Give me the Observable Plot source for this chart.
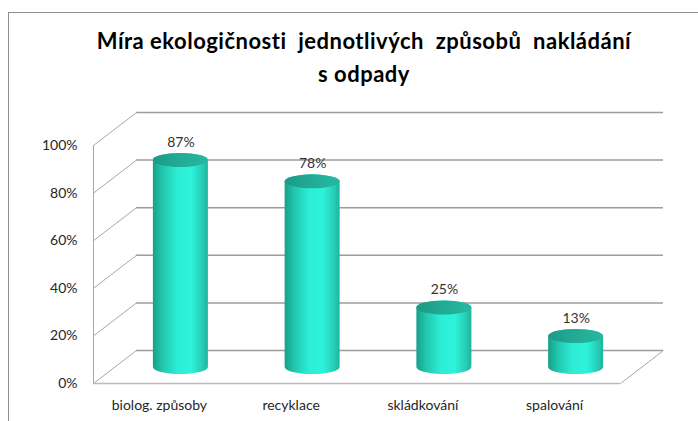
<!DOCTYPE html>
<html>
<head>
<meta charset="utf-8">
<script src="https://cdn.jsdelivr.net/npm/d3@7"></script>
<script src="https://cdn.jsdelivr.net/npm/@observablehq/plot@0.6"></script>
<style>
  html, body { margin: 0; padding: 0; background: #fff; overflow: hidden; }
  #wrap { position: relative; width: 698px; height: 421px; overflow: hidden; }
  #border { position: absolute; left: 8px; top: 12px; width: 720px; height: 440px; border: 1px solid #8e8e8e; box-sizing: border-box; }
  #chart { position: absolute; left: 0; top: 0; }
  #title { position: absolute; left: 15px; top: 24px; width: 698px; text-align: center;
           font-family: Lato, "Open Sans", sans-serif; font-weight: bold; font-size: 22px; letter-spacing: 0.5px; line-height: 33px; color: #000; white-space: pre; }
</style>
</head>
<body>
<div id="wrap">
  <div id="border"></div>
  <div id="chart"></div>
  <div id="title">Míra ekologičnosti  jednotlivých  způsobů  nakládání
s odpady</div>
</div>
<script>
const categories = ["biolog. způsoby", "recyklace", "skládkování", "spalování"];
const values = [87, 78, 25, 13];
const yTicks = [0, 20, 40, 60, 80, 100];

const data = categories.map((c, i) => ({c, i, v: values[i]}));

const W = 698, H = 421;
const mL = 93, mR = 78, mT = 145, mB = 38;
const pxX = (W - mL - mR) / 4;
const pxY = (H - mT - mB) / 100;
// oblique depth of the 3D box (pixels) converted to data units
const DEPTH_PX_X = 43, DEPTH_PX_Y = 33;
const DX = DEPTH_PX_X / pxX, DY = DEPTH_PX_Y / pxY;
const CYL_W = 55, CYL_RY = 7;
const inset = (pxX - CYL_W) / 2;

const svg = Plot.plot({
  width: W, height: H,
  marginLeft: mL, marginRight: mR, marginTop: mT, marginBottom: mB,
  style: {fontFamily: "Lato, 'Open Sans', sans-serif", fontSize: "14px", color: "#262626", background: "transparent"},
  x: {domain: [0, 4], ticks: categories.map((_, i) => i + 0.5), tickFormat: d => categories[Math.floor(d)], tickSize: 0, tickPadding: 17, label: null},
  y: {domain: [0, 100], ticks: yTicks, tickFormat: d => d + "%", tickSize: 0, tickPadding: 16, label: null},
  marks: [
    // back wall gridlines
    Plot.ruleY(yTicks, {dx: DEPTH_PX_X, dy: -DEPTH_PX_Y, stroke: "#9c9c9c", strokeWidth: 1.5}),
    // left side diagonals
    Plot.link(yTicks, {x1: 0, y1: d => d, x2: DX, y2: d => d + DY, stroke: "#a8a8a8", strokeWidth: 1}),
    // floor front edge and right diagonal
    Plot.ruleY([0], {stroke: "#bcbcbc", strokeWidth: 1.5}),
    Plot.link([0], {x1: 4, y1: 0, x2: 4 + DX, y2: DY, stroke: "#a8a8a8", strokeWidth: 1}),
    // front vertical axis line
    Plot.ruleX([0], {y1: 0, y2: 100, stroke: "#a8a8a8", strokeWidth: 1}),
    // cylinder bodies
    Plot.rect(data, {x1: d => d.i, x2: d => d.i + 1, y1: 0, y2: "v",
      insetLeft: inset, insetRight: inset, insetTop: -CYL_RY, insetBottom: -CYL_RY,
      rx: CYL_W / 2, ry: CYL_RY, fill: "url(#cylBody)", dx: DEPTH_PX_X / 2, dy: -16}),
    // cylinder tops
    Plot.rect(data, {x1: d => d.i, x2: d => d.i + 1, y1: "v", y2: "v",
      insetLeft: inset, insetRight: inset, insetTop: -CYL_RY, insetBottom: -CYL_RY,
      rx: CYL_W / 2, ry: CYL_RY, fill: "url(#cylTop)", dx: DEPTH_PX_X / 2, dy: -16}),
    // value labels
    Plot.text(data, {x: d => d.i + 0.5, y: "v", text: d => d.v + "%", dx: DEPTH_PX_X / 2, dy: -34, fontSize: 14, fill: "#333"})
  ]
});

d3.select(svg).insert("defs", ":first-child").html(`
  <linearGradient id="cylBody" x1="0" y1="0" x2="1" y2="0">
    <stop offset="0" stop-color="#17a08b"/>
    <stop offset="0.18" stop-color="#22c7ae"/>
    <stop offset="0.45" stop-color="#2deed6"/>
    <stop offset="0.7" stop-color="#2ef2da"/>
    <stop offset="0.9" stop-color="#26cdb5"/>
    <stop offset="1" stop-color="#1fb39d"/>
  </linearGradient>
  <linearGradient id="cylTop" x1="0" y1="0" x2="1" y2="0">
    <stop offset="0" stop-color="#1c9a86"/>
    <stop offset="0.5" stop-color="#22ab95"/>
    <stop offset="1" stop-color="#27b8a1"/>
  </linearGradient>
`);

document.getElementById("chart").appendChild(svg);
</script>
</body>
</html>
